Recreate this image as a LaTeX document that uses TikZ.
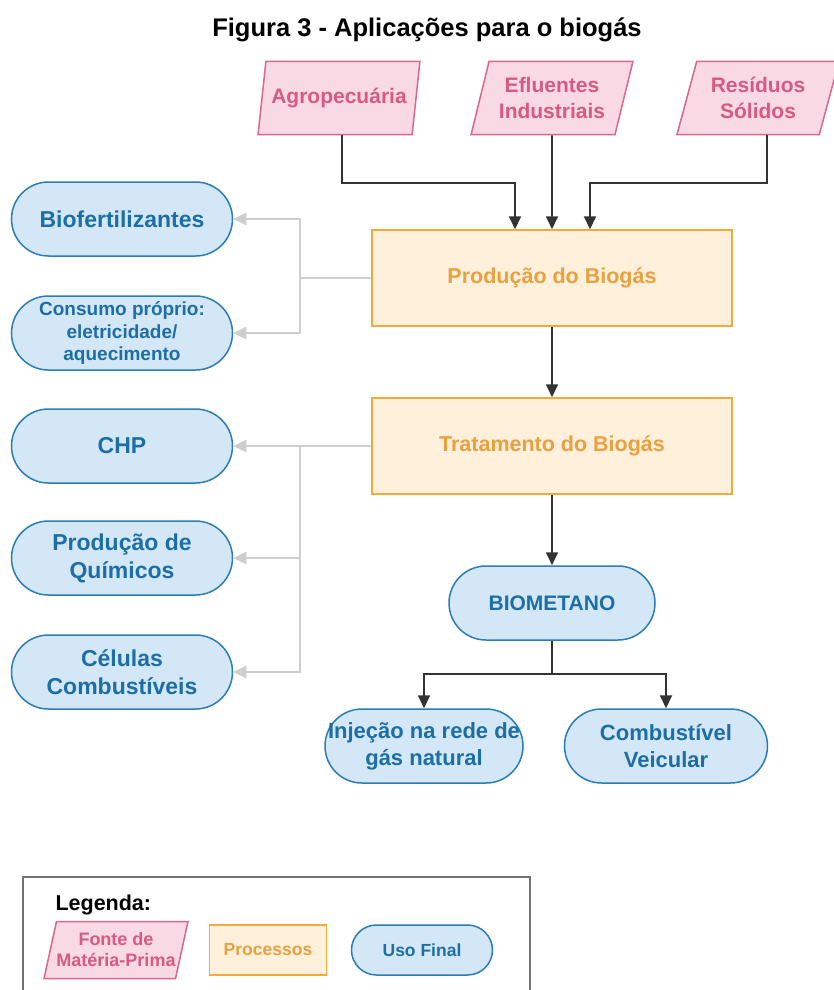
\documentclass[tikz,border=0pt]{standalone}
\usepackage{fontspec}
\setmainfont{Liberation Sans}
\usetikzlibrary{arrows.meta,shapes.geometric}

\definecolor{rosaborda}{HTML}{D9678F}
\definecolor{rosafundo}{HTML}{F9D9E4}
\definecolor{rosatexto}{HTML}{D65A84}
\definecolor{laranjaborda}{HTML}{F4A93B}
\definecolor{laranjafundo}{HTML}{FFF0DC}
\definecolor{laranjatexto}{HTML}{E9A03E}
\definecolor{azulborda}{HTML}{2B7DB5}
\definecolor{azulfundo}{HTML}{D3E7F6}
\definecolor{azultexto}{HTML}{1D6EA5}
\definecolor{cinzaseta}{HTML}{CDCDCD}
\definecolor{pretoseta}{HTML}{333333}

\tikzset{
	fonte/.style={trapezium, trapezium left angle=70, trapezium right angle=110,
		trapezium stretches=true, draw=rosaborda, fill=rosafundo, text=rosatexto,
		line width=1.5pt, align=center, inner sep=0pt, minimum width=162pt,
		minimum height=73pt, font=\bfseries\fontsize{21}{26}\selectfont},
	processo/.style={rectangle, draw=laranjaborda, fill=laranjafundo, text=laranjatexto,
		line width=1.5pt, minimum width=360pt, minimum height=96pt,
		font=\bfseries\fontsize{21.5}{26}\selectfont},
	usofinal/.style={rectangle, rounded corners=37pt, draw=azulborda, fill=azulfundo,
		text=azultexto, line width=1.5pt, align=center, inner sep=0pt, minimum width=221pt,
		minimum height=74pt, font=\bfseries\fontsize{23}{28}\selectfont},
	setapreta/.style={line width=1.8pt, draw=pretoseta, -{Triangle[length=13pt,width=12pt]}},
	setacinza/.style={line width=1.8pt, draw=cinzaseta, -{Triangle[length=13pt,width=12pt]}}
}

\begin{document}
\begin{tikzpicture}[x=1pt, y=-1pt]
		%%%%% START %%%%%
		\useasboundingbox[fill=white] (0, 0) rectangle (833, 990);
		
		\node[font=\bfseries\fontsize{25.5}{30}\selectfont] (titulo) at (427, 30) {Figura 3 - Aplicações para o biogás};
		
		\node[fonte] (agro) at (339, 98) {Agropecuária};
		\node[fonte] (eflu) at (552, 98) {Efluentes\\Industriais};
		\node[fonte] (resi) at (758, 98) {Resíduos\\Sólidos};
		
		\node[processo] (producao) at (552, 278) {Produção do Biogás};
		\node[processo] (tratamento) at (552, 446) {Tratamento do Biogás};
		
		\node[usofinal, minimum width=206pt, font=\bfseries\fontsize{21}{26}\selectfont] (biometano) at (552, 603) {BIOMETANO};
		\node[usofinal, minimum width=198pt, font=\bfseries\fontsize{22}{27}\selectfont] (injecao) at (424, 746) {Injeção na rede de\\gás natural};
		\node[usofinal, minimum width=203pt, font=\bfseries\fontsize{22}{27}\selectfont] (veicular) at (666, 746) {Combustível\\Veicular};
		
		\node[usofinal] (biofert) at (122, 219) {Biofertilizantes};
		\node[usofinal, font=\bfseries\fontsize{19}{22.5}\selectfont] (consumo) at (122, 333) {Consumo próprio:\\eletricidade/\\aquecimento};
		\node[usofinal] (chp) at (122, 446) {CHP};
		\node[usofinal] (quimicos) at (122, 558) {Produção de\\Químicos};
		\node[usofinal] (celulas) at (122, 672) {Células\\Combustíveis};
		
		% materias-primas
		\draw[setapreta] (agro.south -| 342, 0) |- (515, 183) -- (515, 0 |- producao.north);
		\draw[setapreta] (eflu.south) -- (producao.north);
		\draw[setapreta] (resi.south -| 767, 0) |- (590, 183) -- (590, 0 |- producao.north);
		
		\draw[setapreta] (producao.south) -- (tratamento.north);
		\draw[setapreta] (tratamento.south) -- (biometano.north);
		
		\coordinate (ramo) at (552, 674);
		\draw[line width=1.8pt, draw=pretoseta] (biometano.south) -- (ramo);
		\draw[setapreta] (ramo) -| (injecao.north);
		\draw[setapreta] (ramo) -| (veicular.north);
		
		% usos
		\coordinate (ramoA) at (300, 278);
		\draw[line width=1.8pt, draw=cinzaseta] (producao.west) -- (ramoA);
		\draw[setacinza] (ramoA) |- (biofert.east);
		\draw[setacinza] (ramoA) |- (consumo.east);
		
		\coordinate (ramoB) at (300, 446);
		\draw[setacinza] (tratamento.west) -- (chp.east);
		\draw[setacinza] (ramoB) |- (quimicos.east);
		\draw[setacinza] (ramoB) |- (celulas.east);
		
		% legenda
		\draw[line width=1.5pt, draw=black!55] (23, 877) rectangle (530, 1000);
		\node[font=\bfseries\fontsize{21.5}{25}\selectfont, anchor=west] (legenda) at (52, 905) {Legenda:};
		\node[fonte, minimum width=140pt, minimum height=57pt, font=\bfseries\fontsize{18}{21}\selectfont] (leg1) at (116, 950) {Fonte de\\Matéria-Prima};
		\node[processo, minimum width=117pt, minimum height=50pt, font=\bfseries\fontsize{17.5}{20}\selectfont] (leg2) at (268, 950) {Processos};
		\node[usofinal, minimum width=141pt, minimum height=50pt, rounded corners=25pt, font=\bfseries\fontsize{17.5}{20}\selectfont] (leg3) at (422, 950) {Uso Final};
		
		%%%%% END %%%%%
	\end{tikzpicture}
\end{document}
